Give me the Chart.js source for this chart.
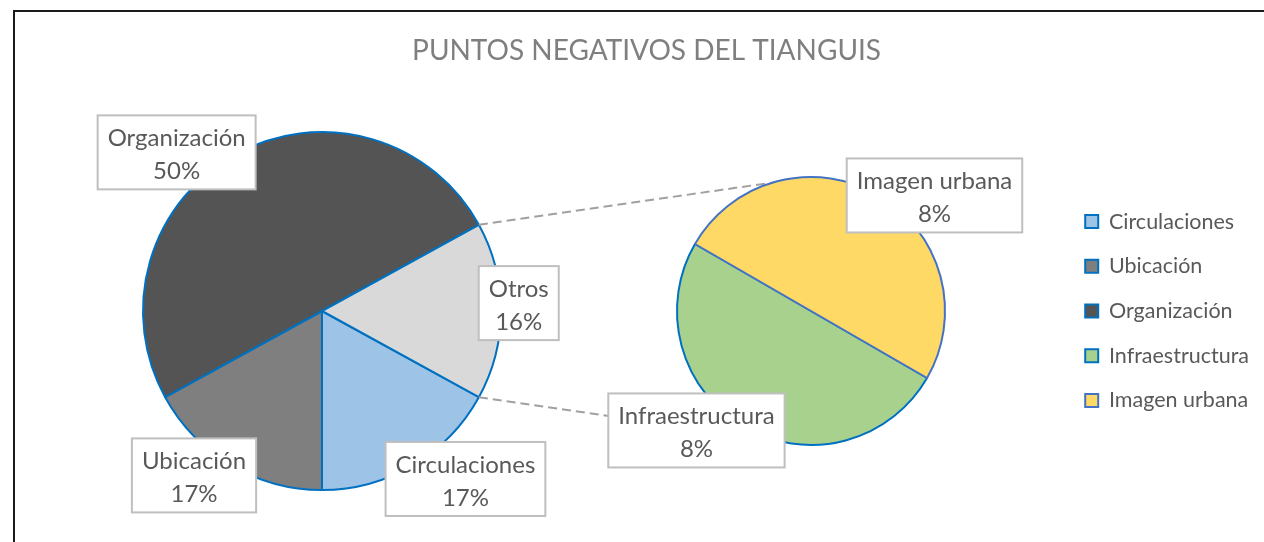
<!DOCTYPE html>
<html>
<head>
<meta charset="utf-8">
<title>Puntos negativos del tianguis</title>
<script src="https://cdn.jsdelivr.net/npm/chart.js@4.4.1/dist/chart.umd.min.js"></script>
<style>
  html, body { margin: 0; padding: 0; background: #fff; overflow: hidden; }
  body { width: 1264px; height: 542px; position: relative; }
  #frame { position: absolute; left: 13px; top: 10px; width: 1400px; height: 700px; border: 2px solid #1a1a1a; box-sizing: border-box; }
  #mainPie { position: absolute; left: -237px; top: 0; }
  #subPie { position: absolute; left: 0; top: 0; }
</style>
</head>
<body>
<div id="frame"></div>
<canvas id="mainPie" width="1118" height="542"></canvas>
<canvas id="subPie" width="1264" height="542"></canvas>
<script>
// shares in percent
const categories = ['Circulaciones', 'Ubicación', 'Organización'];
const shares = [17, 17, 50];
const otherLabel = 'Otros';
const otherCategories = ['Infraestructura', 'Imagen urbana'];
const otherShares = [8, 8];

const otherTotal = otherShares.reduce((a, b) => a + b, 0);
const grandTotal = shares.reduce((a, b) => a + b, 0) + otherTotal;

const mainColors = ['#9dc3e6', '#7f7f7f', '#545454', '#d9d9d9'];
const subColors = ['#a9d18e', '#ffd966'];
const subBorders = ['#0070c0', '#4472c4'];
const ringBlue = '#0070c0';
const textGray = '#595959';
const FONT = 'Lato';

// where each boxed label sits: rotation off the slice middle (deg) and distance as a multiple of the radius
const mainPlacement = {
  'Circulaciones': { turn: -9.9, k: 1.234 },
  'Ubicación': { turn: 7.3, k: 1.164 },
  'Organización': { turn: -13.7, k: 1.202 },
  'Otros': { turn: -2.3, k: 1.10 }
};
const subPlacement = {
  'Infraestructura': { turn: 13.8, k: 1.235 },
  'Imagen urbana': { turn: 16.9, k: 1.262 }
};

// white boxes with name + percent, like Excel callouts
const boxLabels = {
  id: 'boxLabels',
  afterDatasetsDraw(chart, args, opts) {
    const { ctx } = chart;
    const meta = chart.getDatasetMeta(0);
    const values = chart.data.datasets[0].data;
    ctx.save();
    ctx.font = '24px ' + FONT;
    ctx.textAlign = 'center';
    ctx.textBaseline = 'middle';
    meta.data.forEach((arc, i) => {
      const name = chart.data.labels[i];
      const place = opts.placement[name];
      const ang = (arc.startAngle + arc.endAngle) / 2 + place.turn * Math.PI / 180;
      const cx = arc.x + Math.cos(ang) * arc.outerRadius * place.k;
      const cy = arc.y + Math.sin(ang) * arc.outerRadius * place.k;
      const lines = [name, values[i] + '%'];
      const w = Math.max(...lines.map(t => ctx.measureText(t).width)) + 20;
      const h = 74;
      ctx.fillStyle = '#ffffff';
      ctx.fillRect(cx - w / 2, cy - h / 2, w, h);
      ctx.strokeStyle = '#bfbfbf';
      ctx.lineWidth = 2;
      ctx.strokeRect(cx - w / 2, cy - h / 2, w, h);
      ctx.fillStyle = textGray;
      ctx.fillText(lines[0], cx, cy - 14);
      ctx.fillText(lines[1], cx, cy + 19);
    });
    ctx.restore();
  }
};

// secondary pie: the breakdown of "Otros", plus the legend for everything
const subChart = new Chart(document.getElementById('subPie'), {
  type: 'pie',
  data: {
    labels: otherCategories,
    datasets: [{
      data: otherShares,
      backgroundColor: subColors,
      borderColor: subBorders,
      borderWidth: 2,
      radius: 134
    }]
  },
  options: {
    responsive: false,
    animation: false,
    events: [],
    rotation: 120,
    layout: { padding: { left: 560, right: 5, top: 177, bottom: 97 } },
    plugins: {
      tooltip: { enabled: false },
      boxLabels: { placement: subPlacement },
      legend: {
        position: 'right',
        labels: {
          font: { family: FONT, size: 21.5 },
          color: textGray,
          boxWidth: 13,
          boxHeight: 13,
          padding: 23.2,
          generateLabels: () => {
            const names = categories.concat(otherCategories);
            const fills = mainColors.slice(0, categories.length).concat(subColors);
            const strokes = categories.map(() => ringBlue).concat(subBorders);
            return names.map((text, i) => ({
              text,
              fillStyle: fills[i],
              strokeStyle: strokes[i],
              lineWidth: 2,
              fontColor: textGray,
              hidden: false,
              index: i
            }));
          }
        }
      }
    }
  },
  plugins: [boxLabels]
});

// dashed lines from the edges of "Otros" to the top and bottom of the secondary pie
const connectors = {
  id: 'connectors',
  afterDatasetsDraw(chart) {
    const arcs = chart.getDatasetMeta(0).data;
    const other = arcs[arcs.length - 1];
    const sub = subChart.getDatasetMeta(0).data[0];
    const a = chart.canvas.getBoundingClientRect();
    const b = subChart.canvas.getBoundingClientRect();
    const sx = sub.x + b.left - a.left;
    const sy = sub.y + b.top - a.top;
    const r = other.outerRadius;
    const { ctx } = chart;
    ctx.save();
    ctx.strokeStyle = '#a0a0a0';
    ctx.lineWidth = 2;
    ctx.setLineDash([9, 5]);
    ctx.beginPath();
    ctx.moveTo(other.x + Math.cos(other.startAngle) * r, other.y + Math.sin(other.startAngle) * r);
    ctx.lineTo(sx, sy - sub.outerRadius);
    ctx.moveTo(other.x + Math.cos(other.endAngle) * r, other.y + Math.sin(other.endAngle) * r);
    ctx.lineTo(sx, sy + sub.outerRadius);
    ctx.stroke();
    ctx.restore();
  }
};

// main pie, "Otros" centred on the right so its slice faces the breakdown
new Chart(document.getElementById('mainPie'), {
  type: 'pie',
  data: {
    labels: categories.concat([otherLabel]),
    datasets: [{
      data: shares.concat([otherTotal]),
      backgroundColor: mainColors,
      borderColor: ringBlue,
      borderWidth: 2,
      radius: 179
    }]
  },
  options: {
    responsive: false,
    animation: false,
    events: [],
    rotation: 90 + (otherTotal / grandTotal) * 180,
    layout: { padding: { left: 0, right: 0, top: 0, bottom: 52 } },
    plugins: {
      tooltip: { enabled: false },
      legend: { display: false },
      boxLabels: { placement: mainPlacement },
      title: {
        display: true,
        text: 'PUNTOS NEGATIVOS DEL TIANGUIS',
        align: 'end',
        color: '#7f7f7f',
        font: { family: FONT, size: 28, weight: 'normal' },
        padding: { top: 34, bottom: 64.4 }
      }
    }
  },
  plugins: [connectors, boxLabels]
});
</script>
</body>
</html>
